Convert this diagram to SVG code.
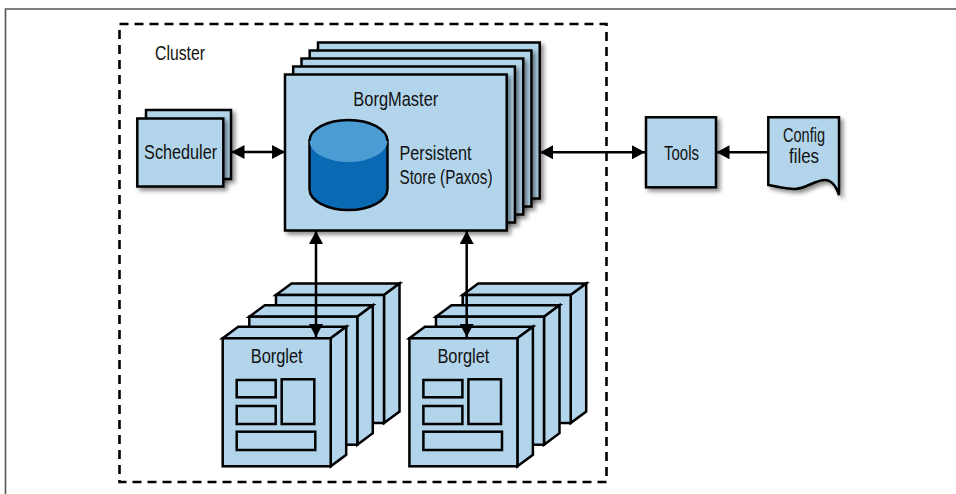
<svg xmlns="http://www.w3.org/2000/svg" xmlns:xlink="http://www.w3.org/1999/xlink" width="956" height="494" viewBox="0 0 956 494">
<style>
.box{fill:#b3d5eb;stroke:#000;stroke-width:2.5;stroke-linejoin:miter}
.inner{fill:#b3d5eb;stroke:#000;stroke-width:2.5}
.t{font-family:"Liberation Sans Narrow","Liberation Sans",Arial,sans-serif;font-size:20.5px;fill:#111}
.c{stroke:#000;stroke-width:2.5;fill:none}
.frame{stroke:#555;stroke-width:1.6;fill:none}
.shadow{filter:url(#ds)}
</style>
<defs>
<filter id="ds" x="-20%" y="-20%" width="150%" height="150%">
<feDropShadow dx="3" dy="3" stdDeviation="2.2" flood-color="#000" flood-opacity="0.45"/>
</filter>
<marker id="ah" viewBox="0 0 13 14" refX="13" refY="7" markerWidth="13" markerHeight="14" markerUnits="userSpaceOnUse" orient="auto-start-reverse">
<path d="M0,0 L13,7 L0,14 Z" fill="#000"/>
</marker>
<g id="cube">
<polygon class="box" points="0,0 15.5,-11.5 123.5,-11.5 108,0"/>
<polygon class="box" points="108,0 123.5,-11.5 123.5,116.5 108,128"/>
<rect class="box" x="0" y="0" width="108" height="128"/>
</g>
</defs>

<g id="frame">
<path class="frame" d="M5.5,494 V9 H956"/>
</g>

<g id="cluster">
<rect x="119.5" y="24" width="487" height="458" fill="none" stroke="#000" stroke-width="2.6" stroke-dasharray="9,6"/>
<text class="t" x="155" y="60" textLength="50" lengthAdjust="spacingAndGlyphs">Cluster</text>
</g>

<g id="borgmaster">
<rect class="box shadow" x="318" y="42.5" width="221.7" height="156"/>
<rect class="box shadow" x="309.7" y="50.5" width="221.7" height="156"/>
<rect class="box shadow" x="301.5" y="58.5" width="221.7" height="156"/>
<rect class="box shadow" x="293.2" y="66.5" width="221.7" height="156"/>
<rect class="box shadow" x="285" y="74.5" width="221.7" height="156"/>
<text class="t" x="395.8" y="106" text-anchor="middle" textLength="85" lengthAdjust="spacingAndGlyphs">BorgMaster</text>
<path d="M309.5,141 V189 A39,21 0 0 0 387.5,189 V141 Z" fill="#0a69b3" stroke="#000" stroke-width="2.5"/>
<ellipse cx="348.5" cy="141" rx="39" ry="21" fill="#4b9cd3" stroke="none"/>
<path d="M309.5,141 A39,21 0 0 1 387.5,141" fill="none" stroke="#000" stroke-width="2.5"/>
<text class="t" x="399.5" y="160" textLength="72" lengthAdjust="spacingAndGlyphs">Persistent</text>
<text class="t" x="399.5" y="184" textLength="93" lengthAdjust="spacingAndGlyphs">Store (Paxos)</text>
</g>

<g id="scheduler">
<rect class="box shadow" x="146" y="110" width="85" height="69"/>
<rect class="box shadow" x="137.3" y="118.5" width="86" height="68"/>
<text class="t" x="180.6" y="159.3" text-anchor="middle" textLength="73" lengthAdjust="spacingAndGlyphs">Scheduler</text>
</g>

<g id="tools">
<rect class="box shadow" x="646" y="117.3" width="70" height="70"/>
<text class="t" x="681.5" y="160" text-anchor="middle" textLength="35" lengthAdjust="spacingAndGlyphs">Tools</text>
</g>

<g id="config-files">
<path class="box shadow" d="M768.3,117.3 H839 V195 C836,186 831,180 825,180 C815,180 805,189 795,189 C785,189 775,186 768.3,185 Z"/>
<text class="t" x="804" y="141.5" text-anchor="middle" textLength="42" lengthAdjust="spacingAndGlyphs">Config</text>
<text class="t" x="804" y="163.3" text-anchor="middle" textLength="30" lengthAdjust="spacingAndGlyphs">files</text>
</g>

<g id="borglet-left">
<use xlink:href="#cube" href="#cube" x="276" y="295"/>
<use xlink:href="#cube" href="#cube" x="249.3" y="316.7"/>
<use xlink:href="#cube" href="#cube" x="222.7" y="338.3"/>
<text class="t" x="276.7" y="363" text-anchor="middle" textLength="52" lengthAdjust="spacingAndGlyphs">Borglet</text>
<rect class="inner" x="236.7" y="380" width="39" height="17.3"/>
<rect class="inner" x="236.7" y="406" width="39" height="18"/>
<rect class="inner" x="281.7" y="379.3" width="32.6" height="44.7"/>
<rect class="inner" x="236.7" y="431.7" width="78.6" height="18.3"/>
</g>

<g id="borglet-right">
<use xlink:href="#cube" href="#cube" x="462.7" y="295"/>
<use xlink:href="#cube" href="#cube" x="436" y="316.7"/>
<use xlink:href="#cube" href="#cube" x="409.4" y="338.3"/>
<text class="t" x="463.4" y="363" text-anchor="middle" textLength="52" lengthAdjust="spacingAndGlyphs">Borglet</text>
<rect class="inner" x="423.4" y="380" width="39" height="17.3"/>
<rect class="inner" x="423.4" y="406" width="39" height="18"/>
<rect class="inner" x="468.4" y="379.3" width="32.6" height="44.7"/>
<rect class="inner" x="423.4" y="431.7" width="78.6" height="18.3"/>
</g>

<g id="connectors">
<path class="c" d="M231.5,152 H285" marker-start="url(#ah)" marker-end="url(#ah)"/>
<path class="c" d="M540,152.3 H645" marker-start="url(#ah)" marker-end="url(#ah)"/>
<path class="c" d="M768,152.3 H716.5" marker-end="url(#ah)"/>
<path class="c" d="M316,231 V337" marker-start="url(#ah)" marker-end="url(#ah)"/>
<path class="c" d="M466.7,231 V337" marker-start="url(#ah)" marker-end="url(#ah)"/>
</g>
</svg>
